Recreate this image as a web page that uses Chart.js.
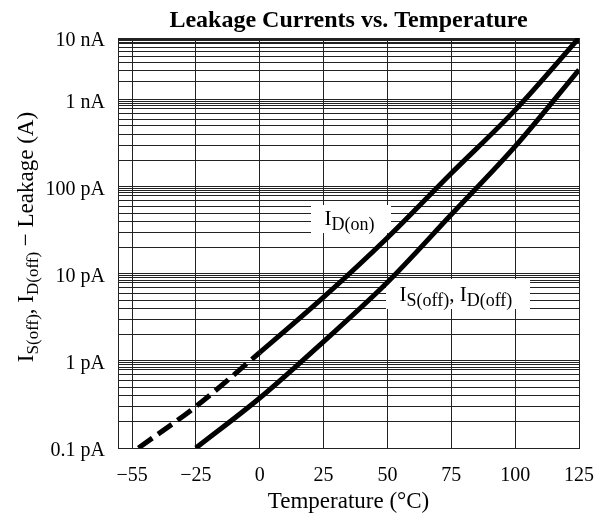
<!DOCTYPE html>
<html>
<head>
<meta charset="utf-8">
<title>Leakage Currents vs. Temperature</title>
<script src="https://cdn.jsdelivr.net/npm/chart.js@4.4.0/dist/chart.umd.min.js"></script>
<style>
  html, body { margin: 0; padding: 0; background: #fff; }
  #chart { display: block; }
</style>
</head>
<body>
<canvas id="chart" width="598" height="516"></canvas>
<script>
// axis ticks as printed on the graph
const tempTicks = [-55, -25, 0, 25, 50, 75, 100, 125];
const decadeValues = [1e-13, 1e-12, 1e-11, 1e-10, 1e-9, 1e-8];
const decadeLabels = ['0.1 pA', '1 pA', '10 pA', '100 pA', '1 nA', '10 nA'];
const minorSteps = [2, 3, 4, 5, 6, 7, 8, 8.5, 9, 9.5];

// I_D(on), amps vs °C
const tempOn = [-52, -25, 0, 25, 50, 75, 100, 125];
const leakOn = [1e-13, 3.0e-13, 1.25e-12, 5.4e-12, 2.6e-11, 1.43e-10, 7.6e-10, 1e-8];

// I_S(off), I_D(off), amps vs °C
const tempOff = [-25, 0, 25, 50, 75, 100, 125];
const leakOff = [1e-13, 3.75e-13, 1.67e-12, 8e-12, 4.8e-11, 2.91e-10, 3.06e-9];

const serif = '"Liberation Serif", "DejaVu Serif", serif';

// the datasheet squeezes -55..-25 into one grid step and its top decade is short,
// so both axes are linear "position" scales fed through these
const xPos = t => t >= -25 ? t : -25 + (t + 25) * 25 / 30;
const TOP_DECADE = 61.7 / 87;
const yPos = v => {
  const d = Math.log10(v / 1e-13);
  return d <= 4 ? d : 4 + (d - 4) * TOP_DECADE;
};

const yTickValues = [];
decadeValues.forEach((v, i) => {
  yTickValues.push(yPos(v));
  if (i < decadeValues.length - 1) {
    minorSteps.forEach(m => yTickValues.push(yPos(v * m)));
  }
});
const xTickValues = tempTicks.map(xPos);

const toPoints = (temps, vals) => temps.map((t, i) => ({ x: xPos(t), y: yPos(vals[i]) }));

// draws text runs with subscripts along one baseline
function drawRuns(ctx, runs, x, y, size, subSize, shift, center) {
  let w = 0;
  runs.forEach(r => {
    ctx.font = (r.sub ? subSize : size) + 'px ' + serif;
    w += ctx.measureText(r.text).width;
  });
  let cx = center ? x - w / 2 : x;
  runs.forEach(r => {
    ctx.font = (r.sub ? subSize : size) + 'px ' + serif;
    ctx.fillText(r.text, cx, y + (r.sub ? shift : 0));
    cx += ctx.measureText(r.text).width;
  });
}

const labelsPlugin = {
  id: 'labels',
  beforeDatasetsDraw(chart) {
    const ctx = chart.ctx;
    ctx.save();
    ctx.textBaseline = 'alphabetic';
    ctx.textAlign = 'left';

    // I_D(on) label
    ctx.fillStyle = '#fff';
    ctx.fillRect(311, 205, 80, 28);
    ctx.fillStyle = '#000';
    drawRuns(ctx, [{ text: 'I' }, { text: 'D(on)', sub: true }], 324.5, 225, 21, 18, 5);

    // I_S(off), I_D(off) label
    ctx.fillStyle = '#fff';
    ctx.fillRect(386, 279, 144, 30);
    ctx.fillStyle = '#000';
    drawRuns(ctx, [
      { text: 'I' }, { text: 'S(off)', sub: true },
      { text: ', I' }, { text: 'D(off)', sub: true }
    ], 399.5, 301, 21, 18, 5);
    ctx.restore();
  },
  afterDraw(chart) {
    const ctx = chart.ctx;
    const area = chart.chartArea;
    ctx.save();
    ctx.fillStyle = '#000';

    // x axis title
    ctx.font = '23px ' + serif;
    ctx.textAlign = 'center';
    ctx.textBaseline = 'middle';
    ctx.fillText('Temperature (\u00b0C)', (area.left + area.right) / 2, 502);

    // y axis title with subscripts
    ctx.textAlign = 'left';
    ctx.textBaseline = 'alphabetic';
    ctx.translate(33, 237);
    ctx.rotate(-Math.PI / 2);
    drawRuns(ctx, [
      { text: 'I' }, { text: 'S(off)', sub: true },
      { text: ', I' }, { text: 'D(off)', sub: true },
      { text: ' \u2212 Leakage (A)' }
    ], 0, 0, 23, 17, 5, true);
    ctx.restore();
  }
};

new Chart(document.getElementById('chart'), {
  type: 'line',
  data: {
    datasets: [
      {
        label: 'I_D(on)',
        data: toPoints(tempOn, leakOn),
        borderColor: '#000',
        borderWidth: 5,
        borderCapStyle: 'butt',
        pointRadius: 0,
        cubicInterpolationMode: 'monotone',
        segment: {
          borderDash: c => c.p1.parsed.x <= 0 ? [17, 7] : undefined
        }
      },
      {
        label: 'I_S(off), I_D(off)',
        data: toPoints(tempOff, leakOff),
        borderColor: '#000',
        borderWidth: 5,
        borderCapStyle: 'butt',
        pointRadius: 0,
        cubicInterpolationMode: 'monotone'
      }
    ]
  },
  options: {
    responsive: false,
    animation: false,
    layout: { padding: { left: 0, right: 19, top: 0, bottom: 12 } },
    plugins: {
      legend: { display: false },
      tooltip: { enabled: false },
      title: {
        display: true,
        text: 'Leakage Currents vs. Temperature',
        color: '#000',
        fullSize: false,
        font: { family: serif, size: 24, weight: 'bold' },
        padding: { top: 6.5, bottom: 2.7 }
      }
    },
    scales: {
      x: {
        type: 'linear',
        min: -55.5,
        max: 125,
        afterBuildTicks: s => { s.ticks = xTickValues.map(v => ({ value: v })); },
        afterFit: s => { s.paddingLeft = 0; s.paddingRight = 0; },
        ticks: {
          autoSkip: false,
          maxRotation: 0,
          padding: 16,
          color: '#000',
          font: { family: serif, size: 20 },
          callback: (v, i) => String(tempTicks[i]).replace('-', '\u2212')
        },
        grid: { color: '#222', lineWidth: 1, drawTicks: false },
        border: { color: '#222', width: 1 }
      },
      y: {
        type: 'linear',
        min: 0,
        max: yPos(decadeValues[decadeValues.length - 1]),
        afterBuildTicks: s => { s.ticks = yTickValues.map(v => ({ value: v })); },
        afterFit: s => { s.width = 118; },
        ticks: {
          autoSkip: false,
          padding: 13,
          labelOffset: 3,
          color: '#000',
          font: { family: serif, size: 20 },
          callback: v => {
            const i = decadeValues.findIndex(d => Math.abs(yPos(d) - v) < 1e-6);
            return i >= 0 ? decadeLabels[i] : '';
          }
        },
        grid: { color: '#222', lineWidth: 1, drawTicks: false },
        border: { color: '#222', width: 1 }
      }
    }
  },
  plugins: [labelsPlugin]
});
</script>
</body>
</html>
